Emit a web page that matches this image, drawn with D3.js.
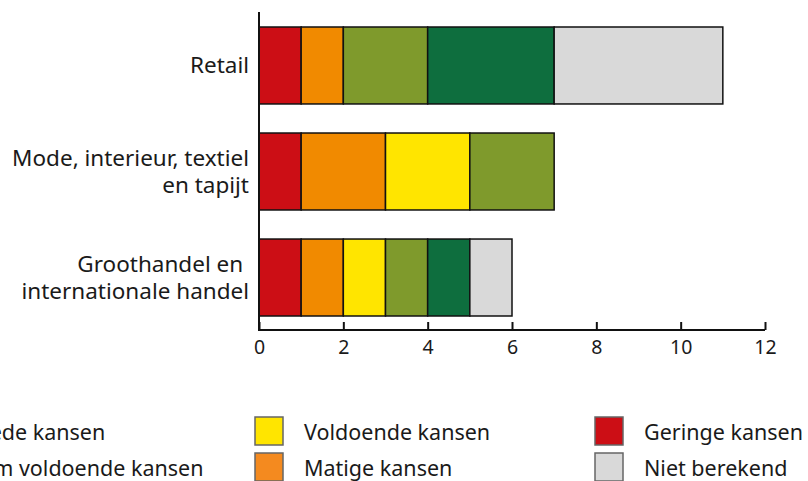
<!DOCTYPE html>
<html>
<head>
<meta charset="utf-8">
<script src="https://cdn.jsdelivr.net/npm/d3@7"></script>
<style>
  body { margin: 0; background: #fff; }
  text { font-family: "Noto Sans", sans-serif; fill: #1a1a1a; }
</style>
</head>
<body>
<script>
// Chart data
var categories = ["Retail", "Mode, interieur, textiel\nen tapijt", "Groothandel en \ninternationale handel"];
var seriesNames = ["Geringe kansen", "Matige kansen", "Voldoende kansen", "Ruim voldoende kansen", "Goede kansen", "Niet berekend"];
var geringe = [1, 1, 1];
var matige = [1, 2, 1];
var voldoende = [0, 2, 1];
var ruimVoldoende = [2, 2, 1];
var goede = [3, 0, 1];
var nietBerekend = [4, 0, 1];
var xTicks = [0, 2, 4, 6, 8, 10, 12];

var colors = {
  "Geringe kansen": "#cc0e15",
  "Matige kansen": "#f18a00",
  "Voldoende kansen": "#ffe500",
  "Ruim voldoende kansen": "#7f9a2c",
  "Goede kansen": "#0e6e3e",
  "Niet berekend": "#d9d9d9"
};
var legendColors = Object.assign({}, colors, { "Matige kansen": "#f48a1f" });

// legend order (column by column)
var legendOrder = ["Goede kansen", "Ruim voldoende kansen", "Voldoende kansen", "Matige kansen", "Geringe kansen", "Niet berekend"];

var svgWidth = 808;
var svgHeight = 481;
var margin = { top: 12, right: 43, bottom: 151, left: 259 };
var width = svgWidth - margin.left - margin.right;
var height = svgHeight - margin.top - margin.bottom;

var svg = d3.select("body")
  .append("svg")
  .attr("width", svgWidth)
  .attr("height", svgHeight);

var chartGroup = svg.append("g")
  .attr("transform", `translate(${margin.left}, ${margin.top})`);

// build table for stack
var table = categories.map(function(c, i) {
  return {
    cat: c,
    "Geringe kansen": geringe[i],
    "Matige kansen": matige[i],
    "Voldoende kansen": voldoende[i],
    "Ruim voldoende kansen": ruimVoldoende[i],
    "Goede kansen": goede[i],
    "Niet berekend": nietBerekend[i]
  };
});

var stacked = d3.stack().keys(seriesNames)(table);

var x = d3.scaleLinear().domain([0, 12]).range([0, 506]);
var y = d3.scaleBand().domain(categories).range([0, 319]).paddingInner(0.274).paddingOuter(0.1415);

// bars
chartGroup.selectAll("g.series")
  .data(stacked)
  .enter()
  .append("g")
  .attr("class", "series")
  .attr("fill", d => colors[d.key])
  .selectAll("rect")
  .data(d => d.filter(p => p[1] - p[0] > 0))
  .enter()
  .append("rect")
  .attr("x", d => x(d[0]))
  .attr("y", d => y(d.data.cat))
  .attr("width", d => x(d[1]) - x(d[0]))
  .attr("height", y.bandwidth())
  .attr("stroke", "#111")
  .attr("stroke-width", 1.5);

// x axis
var xAxis = d3.axisBottom(x).tickValues(xTicks).tickSizeInner(-8).tickSizeOuter(0).tickPadding(10);
var gx = chartGroup.append("g")
  .attr("transform", `translate(0, ${height})`)
  .call(xAxis);
gx.select(".domain").attr("stroke", "#111").attr("stroke-width", 2).attr("d", "M0,0H506");
gx.selectAll(".tick line").attr("stroke", "#111").attr("stroke-width", 2);
gx.selectAll(".tick text").attr("font-size", 19.5).attr("font-family", "Noto Sans").attr("fill", "#1a1a1a");

// y axis line
chartGroup.append("line")
  .attr("x1", 0).attr("x2", 0)
  .attr("y1", 0).attr("y2", height + 1)
  .attr("stroke", "#111")
  .attr("stroke-width", 2);

// category labels
categories.forEach(function(c) {
  var lines = c.split("\n");
  var cy = y(c) + y.bandwidth() / 2;
  var t = chartGroup.append("text")
    .attr("text-anchor", "end")
    .attr("font-size", 22.5)
    .attr("y", cy + 8 - (lines.length - 1) * 13.5);
  lines.forEach(function(l, i) {
    t.append("tspan")
      .attr("x", -10)
      .attr("dy", i === 0 ? 0 : 27)
      .text(l);
  });
});

// legend (first column runs off the left edge, as in the original)
var legend = svg.append("g").attr("class", "legend");
var colX = [-88, 255, 595];
legendOrder.forEach(function(k, i) {
  var col = Math.floor(i / 2);
  var row = i % 2;
  var g = legend.append("g")
    .attr("transform", `translate(${colX[col]}, ${417 + row * 36})`);
  g.append("rect")
    .attr("width", 28)
    .attr("height", 28)
    .attr("fill", legendColors[k])
    .attr("stroke", "#666")
    .attr("stroke-width", 1.5);
  g.append("text")
    .attr("x", 49)
    .attr("y", 15.5)
    .attr("dy", "0.35em")
    .attr("font-size", 21.5)
    .text(k);
});
</script>
</body>
</html>
